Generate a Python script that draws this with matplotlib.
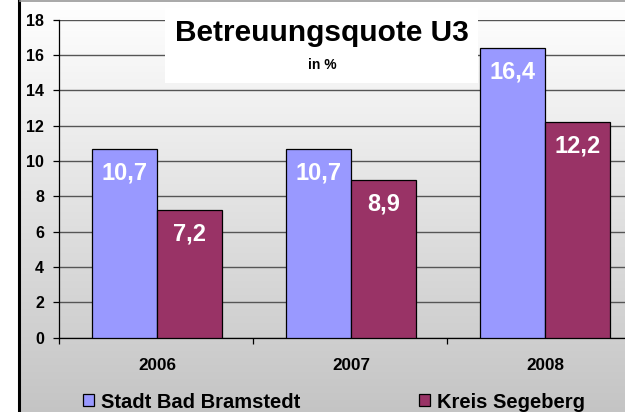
import matplotlib.pyplot as plt
import numpy as np
from matplotlib.patches import Rectangle
from matplotlib.lines import Line2D

years = ['2006', '2007', '2008']
bramstedt = [10.7, 10.7, 16.4]
segeberg = [7.2, 8.9, 12.2]
yticks = [0, 2, 4, 6, 8, 10, 12, 14, 16, 18]

plt.rcParams['font.family'] = ['Liberation Sans', 'DejaVu Sans']
plt.rcParams['font.weight'] = 'bold'

W, H = 625, 412
fig = plt.figure(figsize=(W / 100, H / 100), dpi=100)
fig.patch.set_facecolor('white')

# background gradient (white at top -> grey at bottom)
bg = fig.add_axes([20 / W, 0, 1 - 20 / W, 1 - 2 / H], zorder=-2)
grad = np.linspace(1.0, 0.77, 256).reshape(-1, 1)
bg.imshow(np.dstack([grad, grad, grad]), aspect='auto', extent=[0, 1, 0, 1])
bg.set_axis_off()

# frame lines
fig.add_artist(Line2D([18.5 / W, 18.5 / W], [0, 1], color='black', lw=2.2))
fig.add_artist(Line2D([20 / W, 1], [1 - 0.7 / H, 1 - 0.7 / H], color='#9a9a9a', lw=1.2))

ax = fig.add_axes([59 / W, (H - 337.5) / H, (641 - 59) / W, (337.5 - 19.8) / H])
ax.set_facecolor('none')

x = np.arange(len(years)) + 0.505
w = 0.335
b1 = ax.bar(x - w / 2, bramstedt, w, color='#9999FF', edgecolor='black', lw=0.9,
            label='Stadt Bad Bramstedt', zorder=3)
b2 = ax.bar(x + w / 2, segeberg, w, color='#993366', edgecolor='black', lw=0.9,
            label='Kreis Segeberg', zorder=3)

for bars, vals in [(b1, bramstedt), (b2, segeberg)]:
    for r, v in zip(bars, vals):
        ax.annotate(f'{v:.1f}'.replace('.', ','), (r.get_x() + r.get_width() / 2, v),
                    xytext=(0, -24), textcoords='offset pixels', ha='center', va='center',
                    color='white', fontsize=17, fontweight='bold', zorder=4)

ax.set_xlim(0, 3)
ax.set_ylim(0, 18)
ax.set_yticks(yticks)
ax.yaxis.grid(True, color='#555555', lw=1.0, zorder=0)
ax.set_axisbelow(True)
ax.set_xticks([0, 1, 2, 3])
ax.set_xticklabels([])
ax.set_xticks(x, years, minor=True)
ax.tick_params(axis='x', which='major', direction='out', length=4.3, width=0.9)
ax.tick_params(axis='x', which='minor', length=0, pad=15, labelsize=12.3)
ax.tick_params(axis='y', direction='out', length=4.3, width=0.9, pad=6.5, labelsize=11.5)
for s in ['top', 'right']:
    ax.spines[s].set_visible(False)
for s in ['left', 'bottom']:
    ax.spines[s].set_linewidth(0.9)

# title box
fig.add_artist(Rectangle((165 / W, (H - 83) / H), (478 - 165) / W, 75 / H,
                         facecolor='white', edgecolor='none', zorder=1))
fig.text(321.5 / W, (H - 33) / H, 'Betreuungsquote U3', ha='center', va='center',
         fontsize=21.5, fontweight='bold', zorder=2)
fig.text(322 / W, (H - 65) / H, 'in %', ha='center', va='center',
         fontsize=10, fontweight='bold', zorder=2)

leg = fig.legend(handles=[b1, b2], loc='center left', bbox_to_anchor=(83 / W, (H - 402) / H),
                 ncol=2, frameon=False, fontsize=14.5, handlelength=0.55, handleheight=0.55,
                 handletextpad=0.35, columnspacing=5.9, borderaxespad=0, borderpad=0)

fig.savefig('out.png', dpi=100)
